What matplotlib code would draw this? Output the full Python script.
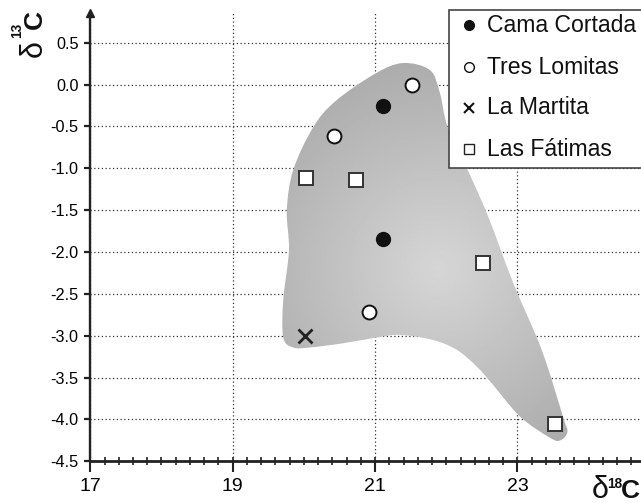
import numpy as np
import matplotlib
matplotlib.use("Agg")
import matplotlib.pyplot as plt
from matplotlib.path import Path
from matplotlib.patches import PathPatch, Rectangle
from matplotlib.lines import Line2D

plt.rcParams['font.family'] = ['Liberation Sans', 'DejaVu Sans']

# ---------------- data ----------------
series_names = ["Cama Cortada", "Tres Lomitas", "La Martita", "Las Fátimas"]
cama_x = [21.11, 21.11]
cama_y = [-0.25, -1.85]
tres_x = [21.52, 20.42, 20.92]
tres_y = [0.0, -0.62, -2.72]
martita_x = [20.02]
martita_y = [-3.0]
fatimas_x = [20.03, 20.73, 22.52, 23.53]
fatimas_y = [-1.11, -1.14, -2.13, -4.06]

x_ticks = [17, 19, 21, 23]
x_ticklabels = ["17", "19", "21", "23"]
y_ticks = [0.5, 0.0, -0.5, -1.0, -1.5, -2.0, -2.5, -3.0, -3.5, -4.0, -4.5]
y_ticklabels = ["0.5", "0.0", "-0.5", "-1.0", "-1.5", "-2.0", "-2.5", "-3.0", "-3.5", "-4.0", "-4.5"]

# outline of the shaded field (data coordinates)
blob_x = [21.39, 21.77, 21.91, 22.02, 22.30, 22.59, 22.94, 23.34, 23.64, 23.70, 23.60, 23.46,
          23.04, 22.64, 22.43, 22.15, 21.81, 21.35, 21.03, 20.55, 20.09, 19.85, 19.71, 19.71,
          19.79, 19.76, 19.85, 20.13, 20.44, 21.00]
blob_y = [0.257, 0.173, -0.10, -0.51, -1.02, -1.58, -2.37, -3.17, -3.97, -4.15, -4.25, -4.22,
          -3.97, -3.57, -3.37, -3.17, -3.05, -2.99, -3.02, -3.09, -3.14, -3.14, -3.02, -2.57,
          -1.98, -1.50, -1.02, -0.51, -0.20, 0.13]

# ---------------- figure ----------------
W, H = 641, 503
fig = plt.figure(figsize=(W / 100, H / 100), dpi=100)

def fx(px):
    return px / W

def fy(py):
    return 1 - py / H

x0px, y_bot_px, y_top_px = 90.3, 461.3, 12.6
ax = fig.add_axes([fx(x0px), fy(y_bot_px), 1 - fx(x0px), fy(y_top_px) - fy(y_bot_px)])
ax.set_xlim(17, 17 + (W - x0px) / 71.2)
ax.set_ylim(-4.5, 0.86)
ax.patch.set_alpha(0)

for s in ["top", "right"]:
    ax.spines[s].set_visible(False)
ax.spines["left"].set_linewidth(1.7)
ax.spines["bottom"].set_linewidth(2.0)
ax.spines["left"].set_color("#222222")
ax.spines["bottom"].set_color("#222222")

ax.set_xticks(x_ticks)
ax.set_xticklabels(x_ticklabels, fontsize=14)
ax.set_xticks(np.arange(17, 24.8, 0.2), minor=True)
ax.xaxis.remove_overlapping_locs = False
ax.tick_params(axis="x", which="major", direction="out", length=8, width=1.5, color="#222222", pad=4)
ax.tick_params(axis="x", which="minor", direction="inout", length=6, width=1.2, color="#222222")
ax.set_yticks(y_ticks)
ax.set_yticklabels(y_ticklabels, fontsize=11.7)
ax.tick_params(axis="y", which="major", direction="out", length=4, width=1.6, color="#222222", pad=4.5)

ax.set_axisbelow(True)
ax.grid(True, which="major", linestyle=(0, (1, 2)), color="#333333", linewidth=0.9)

# arrow head on the y axis
ax.plot([17], [0.85], marker="^", ms=6, color="#222222", clip_on=False, zorder=6)

# ---------------- shaded field (smooth closed outline with radial gradient) ----------------
pts = np.column_stack([blob_x, blob_y])
n = len(pts)
verts = [pts[0]]
codes = [Path.MOVETO]
for i in range(n):
    p0, p1, p2, p3 = pts[(i - 1) % n], pts[i], pts[(i + 1) % n], pts[(i + 2) % n]
    c1 = p1 + (p2 - p0) / 6.0
    c2 = p2 - (p3 - p1) / 6.0
    verts += [c1, c2, p2]
    codes += [Path.CURVE4] * 3
path = Path(np.array(verts), codes)
patch = PathPatch(path, facecolor="none", edgecolor="none", transform=ax.transData)
ax.add_patch(patch)

gx = np.linspace(19.5, 24.0, 300)
gy = np.linspace(-4.4, 0.4, 300)
GX, GY = np.meshgrid(gx, gy)
cxg, cyg = 21.9, -2.2
d = np.sqrt(((GX - cxg) * 71.2) ** 2 + ((GY - cyg) * 83.7) ** 2)
val = np.clip(214 - d * 0.2, 158, 214) / 255.0
im = ax.imshow(val, extent=[gx[0], gx[-1], gy[0], gy[-1]], origin="lower", cmap="gray",
               vmin=0, vmax=1, aspect="auto", zorder=1, interpolation="bilinear")
im.set_clip_path(patch)

# ---------------- data markers ----------------
ax.plot(cama_x, cama_y, ls="none", marker="o", ms=10, mfc="#111111", mec="#111111", zorder=4)
ax.plot(tres_x, tres_y, ls="none", marker="o", ms=10, mfc="white", mec="#111111", mew=1.4, zorder=4)
ax.plot(martita_x, martita_y, ls="none", marker="x", ms=10, mec="#222222", mew=2.0, zorder=4)
ax.plot(fatimas_x, fatimas_y, ls="none", marker="s", ms=9.5, mfc="white", mec="#333333", mew=1.4, zorder=4)

# ---------------- legend ----------------
fig.add_artist(Rectangle((fx(449), fy(168)), fx(700) - fx(449), fy(10) - fy(168),
                         transform=fig.transFigure, facecolor="white", edgecolor="#444444",
                         linewidth=1.2, zorder=5))
leg_y = [25, 67, 108, 149]
leg_styles = [
    dict(marker="o", ms=7, mfc="#111111", mec="#111111"),
    dict(marker="o", ms=7, mfc="white", mec="#111111", mew=1.0),
    dict(marker="x", ms=6.5, mec="#111111", mew=1.5),
    dict(marker="s", ms=6.5, mfc="white", mec="#222222", mew=1.0),
]
for name, yy, st in zip(series_names, leg_y, leg_styles):
    fig.add_artist(Line2D([fx(469)], [fy(yy)], transform=fig.transFigure, ls="none", zorder=6, **st))
    fig.text(fx(487), fy(yy), name, fontsize=16.6, va="center", ha="left", zorder=6, color="#111111")

# ---------------- axis labels ----------------
# x label: δ18C (bottom right)
fig.text(fx(592), fy(498), "δ", fontsize=22, ha="left", va="baseline", color="#111111")
fig.text(fx(607), fy(488), "18", fontsize=9.8, fontweight="bold", ha="left", va="baseline", color="#111111")
fig.text(fx(621), fy(498), "C", fontsize=19, fontweight="bold", ha="left", va="baseline", color="#111111")
# y label: δ13C (rotated, top left)
fig.text(fx(42), fy(57), "δ", fontsize=22, rotation=90, rotation_mode="anchor",
         ha="left", va="baseline", color="#111111")
fig.text(fx(21), fy(38), "13", fontsize=9.8, fontweight="bold", rotation=90, rotation_mode="anchor",
         ha="left", va="baseline", color="#111111")
fig.text(fx(42), fy(29), "C", fontsize=19, fontweight="bold", rotation=90, rotation_mode="anchor",
         ha="left", va="baseline", color="#111111")

fig.savefig("out.png", dpi=100)
